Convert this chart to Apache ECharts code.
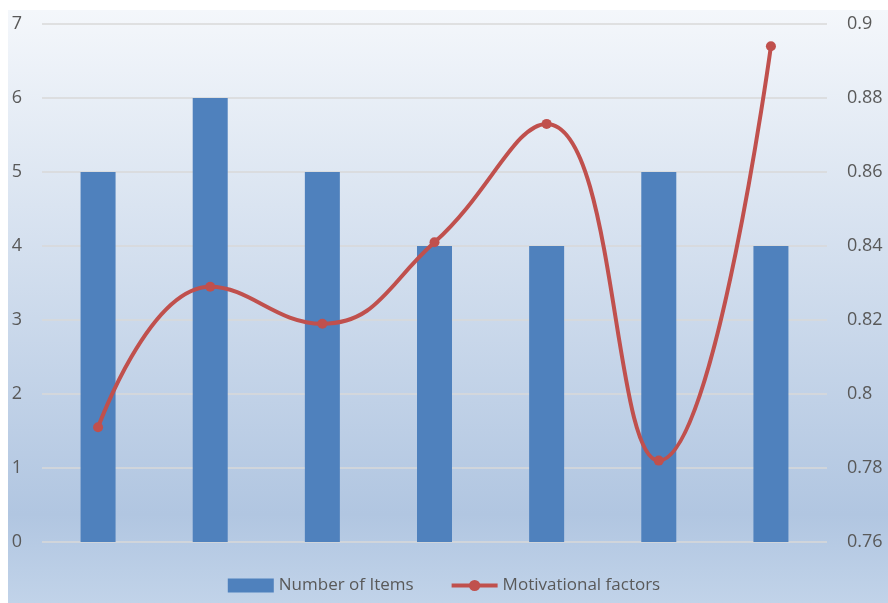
<!DOCTYPE html>
<html>
<head>
<meta charset="utf-8">
<script src="https://cdn.jsdelivr.net/npm/echarts@6/dist/echarts.min.js"></script>
<style>
  html, body { margin: 0; padding: 0; background: #fff; }
  #chart { width: 888px; height: 603px; }
</style>
</head>
<body>
<div id="chart"></div>
<script>
// data
const categories = ['1', '2', '3', '4', '5', '6', '7'];
const itemCounts = [5, 6, 5, 4, 4, 5, 4];
const motivation = [0.791, 0.829, 0.819, 0.841, 0.873, 0.782, 0.894];

const leftTicks = [0, 7, 1];
const rightTicks = [0.76, 0.9, 0.02];

document.addEventListener('DOMContentLoaded', () => {
  const chart = echarts.init(document.getElementById('chart'));
  const textColor = '#595959';
  const font = '"Open Sans", "Liberation Sans", sans-serif';

  const option = {
    backgroundColor: '#ffffff',
    textStyle: { fontFamily: font },
    animation: false,
    graphic: [{
      type: 'rect',
      z: -10,
      silent: true,
      shape: { x: 8, y: 10, width: 880, height: 593 },
      style: {
        fill: new echarts.graphic.LinearGradient(0, 0, 0, 1, [
          { offset: 0, color: '#f4f7fb' },
          { offset: 0.85, color: '#b1c6e1' },
          { offset: 1, color: '#c1d3e9' }
        ])
      }
    }],
    grid: { left: 42, right: 61, top: 24, bottom: 61 },
    legend: {
      bottom: 4,
      left: 'center',
      itemGap: 36,
      itemWidth: 46,
      itemHeight: 14,
      textStyle: { color: textColor, fontSize: 17, fontFamily: font },
      data: [
        { name: 'Number of Items', icon: 'rect' },
        {
          name: 'Motivational factors',
          lineStyle: { width: 4 },
          itemStyle: { color: '#c0504d' }
        }
      ]
    },
    xAxis: {
      type: 'category',
      data: categories,
      axisLine: { show: false },
      axisTick: { show: false },
      axisLabel: { show: false }
    },
    yAxis: [
      {
        type: 'value',
        min: leftTicks[0],
        max: leftTicks[1],
        interval: leftTicks[2],
        axisLine: { show: false },
        axisTick: { show: false },
        axisLabel: { color: textColor, fontSize: 18, margin: 20 },
        splitLine: { lineStyle: { color: '#d9d9d9', width: 1.5 } }
      },
      {
        type: 'value',
        min: rightTicks[0],
        max: rightTicks[1],
        interval: rightTicks[2],
        axisLine: { show: false },
        axisTick: { show: false },
        axisLabel: {
          color: textColor,
          fontSize: 18,
          margin: 20,
          formatter: v => String(parseFloat(v.toFixed(2)))
        },
        splitLine: { show: false }
      }
    ],
    series: [
      {
        name: 'Number of Items',
        type: 'bar',
        barWidth: 35,
        itemStyle: { color: '#4f81bd' },
        data: itemCounts
      },
      {
        name: 'Motivational factors',
        type: 'line',
        yAxisIndex: 1,
        smooth: 0.45,
        symbol: 'circle',
        symbolSize: 10,
        lineStyle: { color: '#c0504d', width: 4 },
        itemStyle: { color: '#c0504d' },
        data: motivation
      }
    ]
  };

  chart.setOption(option);
});
</script>
</body>
</html>
